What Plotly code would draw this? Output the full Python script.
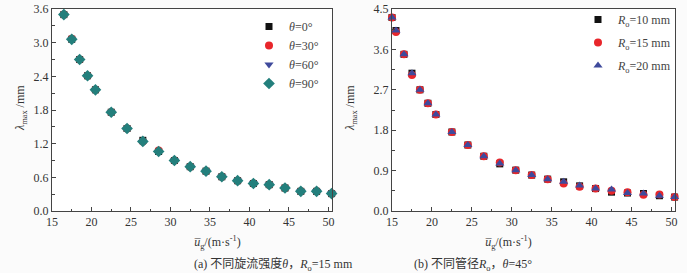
import plotly.graph_objects as go

# ---- data: panel (a) ----
xa = [16.5, 17.5, 18.5, 19.5, 20.5, 22.5, 24.5, 26.5, 28.5, 30.5, 32.5, 34.5,
      36.5, 38.5, 40.5, 42.5, 44.5, 46.5, 48.5, 50.4]
a_th0 = [3.50, 3.06, 2.70, 2.41, 2.16, 1.76, 1.47, 1.26, 1.06, 0.90, 0.79, 0.71,
         0.61, 0.54, 0.49, 0.47, 0.41, 0.35, 0.35, 0.31]
a_th30 = [3.50, 3.07, 2.70, 2.41, 2.16, 1.76, 1.47, 1.24, 1.08, 0.90, 0.79, 0.71,
          0.61, 0.54, 0.49, 0.47, 0.41, 0.35, 0.35, 0.31]
a_th60 = [3.49, 3.05, 2.69, 2.40, 2.15, 1.75, 1.46, 1.23, 1.05, 0.90, 0.79, 0.71,
          0.61, 0.54, 0.49, 0.47, 0.41, 0.35, 0.35, 0.31]
a_th90 = [3.50, 3.06, 2.70, 2.41, 2.16, 1.76, 1.47, 1.24, 1.06, 0.90, 0.79, 0.71,
          0.61, 0.54, 0.49, 0.47, 0.41, 0.35, 0.35, 0.31]
a_names = ["<i>θ</i>=0°", "<i>θ</i>=30°", "<i>θ</i>=60°", "<i>θ</i>=90°"]

# ---- data: panel (b) ----
xb = [15.0, 15.5, 16.5, 17.5, 18.5, 19.5, 20.5, 22.5, 24.5, 26.5, 28.5, 30.5,
      32.5, 34.5, 36.5, 38.5, 40.5, 42.5, 44.5, 46.5, 48.5, 50.4]
b_r10 = [4.31, 4.02, 3.49, 3.07, 2.70, 2.40, 2.15, 1.76, 1.47, 1.22, 1.05, 0.91,
         0.80, 0.71, 0.65, 0.56, 0.50, 0.42, 0.40, 0.39, 0.34, 0.31]
b_r15 = [4.31, 3.99, 3.49, 3.03, 2.70, 2.40, 2.15, 1.76, 1.47, 1.22, 1.08, 0.91,
         0.80, 0.71, 0.61, 0.54, 0.50, 0.45, 0.42, 0.36, 0.37, 0.31]
b_r20 = [4.31, 4.02, 3.49, 3.07, 2.70, 2.40, 2.15, 1.76, 1.47, 1.22, 1.06, 0.91,
         0.80, 0.71, 0.65, 0.57, 0.50, 0.48, 0.40, 0.39, 0.34, 0.31]
b_names = ["<i>R</i><sub>o</sub>=10 mm", "<i>R</i><sub>o</sub>=15 mm", "<i>R</i><sub>o</sub>=20 mm"]

BLACK = "#111111"
RED = "#e8262b"
BLUE = "#3f4a9c"
TEAL = "#237f7c"
SERIF = "Liberation Serif, Times New Roman, serif"
AX = "#444444"

fig = go.Figure()

a_series = [(a_th0, "square", BLACK, 7), (a_th30, "circle", RED, 8),
            (a_th60, "triangle-down", BLUE, 8), (a_th90, "diamond", TEAL, 9)]
for i, ((ys, sym, col, sz), nm) in enumerate(zip(a_series, a_names)):
    fig.add_trace(go.Scatter(x=xa, y=ys, mode="markers", name=nm,
                             marker=dict(symbol=sym, size=sz, color=col, line=dict(width=0)),
                             xaxis="x", yaxis="y", legend="legend",
                             legendgroup="a%d" % i, cliponaxis=False))

b_series = [(b_r10, "square", BLACK, 7), (b_r15, "circle", RED, 8), (b_r20, "triangle-up", BLUE, 8)]
for i, ((ys, sym, col, sz), nm) in enumerate(zip(b_series, b_names)):
    fig.add_trace(go.Scatter(x=xb, y=ys, mode="markers", name=nm,
                             marker=dict(symbol=sym, size=sz, color=col, line=dict(width=0)),
                             xaxis="x2", yaxis="y2", legend="legend2",
                             legendgroup="b%d" % i, cliponaxis=False))

W, H = 687, 273
YD = [1 - 211 / H, 1 - 9 / H]
common_x = dict(showline=True, linecolor=AX, linewidth=1, mirror=True,
                ticks="inside", ticklen=4, tickcolor=AX, showgrid=False, zeroline=False,
                tickfont=dict(family=SERIF, size=12, color="#333"),
                minor=dict(ticks="inside", ticklen=2.5, tickcolor=AX, dtick=2.5),
                tick0=15, dtick=5, automargin=False)
fig.update_layout(
    width=W, height=H,
    margin=dict(l=0, r=0, t=0, b=0, autoexpand=False),
    paper_bgcolor="#fbfbfb", plot_bgcolor="#ffffff",
    xaxis=dict(common_x, domain=[52 / W, 332 / W], range=[15, 50.45], anchor="y"),
    yaxis=dict(common_x, domain=YD, range=[0, 3.6], tick0=0, dtick=0.6,
               minor=dict(ticks="inside", ticklen=2.5, tickcolor=AX, dtick=0.3),
               tickformat=".1f", anchor="x"),
    xaxis2=dict(common_x, domain=[392 / W, 675 / W], range=[15, 50.45], anchor="y2"),
    yaxis2=dict(common_x, domain=YD, range=[0, 4.5], tick0=0, dtick=0.9,
                minor=dict(ticks="inside", ticklen=2.5, tickcolor=AX, dtick=0.45),
                tickformat=".1f", anchor="x2"),
    legend=dict(x=249 / W, y=1 - 12 / H, xanchor="left", yanchor="top",
                bgcolor="rgba(0,0,0,0)", font=dict(family=SERIF, size=12, color="#444"),
                tracegroupgap=0, itemwidth=30),
    legend2=dict(x=578 / W, y=1 - 5 / H, xanchor="left", yanchor="top",
                 bgcolor="rgba(0,0,0,0)", font=dict(family=SERIF, size=12, color="#444"),
                 tracegroupgap=4, itemwidth=30),
    showlegend=True,
)

ann = []
for cx, cap in [((52 + 332) / 2, "(a) 不同旋流强度<i>θ</i>，<i>R</i><sub>o</sub>=15 mm"),
                ((392 + 675) / 2, "(b) 不同管径<i>R</i><sub>o</sub>，<i>θ</i>=45°")]:
    ann.append(dict(x=cx / W, y=1 - 243 / H, xref="paper", yref="paper", showarrow=False,
                    yanchor="middle",
                    text="<i>u̅</i><sub>g</sub>/(m·s<sup>-1</sup>)",
                    font=dict(family=SERIF, size=12, color="#333")))
    ann.append(dict(x=cx / W, y=1 - 264 / H, xref="paper", yref="paper", showarrow=False,
                    yanchor="middle",
                    text=cap, font=dict(family="Liberation Serif, Noto Sans CJK SC, serif",
                                        size=12, color="#333")))
for lx in [11, 351]:
    ann.append(dict(x=lx / W, y=1 - 108 / H, xref="paper", yref="paper", showarrow=False,
                    textangle=-90, text="<i>λ</i><sub>max</sub> /mm",
                    font=dict(family=SERIF, size=12, color="#333")))
fig.update_layout(annotations=ann)

fig.write_html("out.html", config={"displayModeBar": False},
               post_script="document.body.style.margin='0';document.body.style.padding='0';")
